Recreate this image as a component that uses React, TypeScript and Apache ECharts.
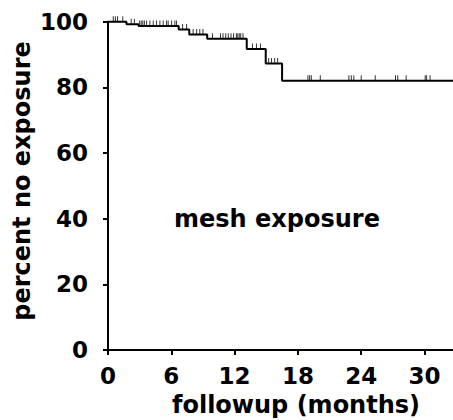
import React, { useEffect, useRef } from "react";
import * as echarts from "echarts";

// Kaplan-Meier step curve (months, percent)
const eventTimes = [0, 1.75, 2.9, 6.7, 7.7, 9.4, 13.15, 14.95, 16.5, 32.7];
const survival = [100, 99.2, 98.7, 97.6, 96.1, 94.8, 91.7, 87.3, 82.0, 82.0];

// censored observations (months)
const censorTimes = [
  0.5, 0.7, 0.9, 1.4,
  2.2, 2.5,
  3.0, 3.15, 3.3, 3.45, 3.66, 3.97, 4.29, 4.6, 4.92, 5.23, 5.55, 5.7, 6.03, 6.34, 6.5,
  7.07, 7.45,
  8.07, 8.4, 8.7, 9.0,
  9.9, 10.66, 10.9, 11.16, 11.4, 11.66, 11.9, 12.17, 12.3, 12.44, 12.58, 12.8,
  13.69, 14.07, 14.45,
  15.23, 15.5, 15.8, 16.08,
  18.95, 19.11, 19.27, 20.12, 22.83, 23.06, 23.3, 24.0, 25.33, 27.25, 27.46, 28.26, 30.06, 30.2, 30.53,
];

const xTicks = [0, 6, 12, 18, 24, 30];
const yTicks = [0, 20, 40, 60, 80, 100];

const FONT = "DejaVu Sans";

function levelAt(t: number): number {
  let v = survival[0];
  for (let i = 0; i < eventTimes.length; i++) {
    if (eventTimes[i] <= t) v = survival[i];
  }
  return v;
}

export default function App() {
  const ref = useRef<HTMLDivElement>(null);
  useEffect(() => {
    if (!ref.current) return;
    const chart = echarts.init(ref.current, undefined, { renderer: "svg" });
    const curve = eventTimes.map((t, i) => [t, survival[i]]);
    const censors = censorTimes.map((t) => [t, levelAt(t)]);
    chart.setOption({
      animation: false,
      backgroundColor: "#ffffff",
      grid: { left: 108, right: 0, top: 21.7, bottom: 70, containLabel: false },
      xAxis: {
        type: "value",
        min: 0,
        max: 32.7,
        interval: 6,
        splitLine: { show: false },
        axisLine: { lineStyle: { color: "#000", width: 2 } },
        axisTick: { show: true, length: 5, lineStyle: { color: "#000", width: 2 } },
        axisLabel: {
          color: "#000",
          fontFamily: FONT,
          fontWeight: "bold",
          fontSize: 23,
          margin: 14,
        },
      },
      yAxis: {
        type: "value",
        min: 0,
        max: 100,
        interval: 20,
        splitLine: { show: false },
        axisLine: { show: true, lineStyle: { color: "#000", width: 2 } },
        axisTick: { show: true, length: 5, lineStyle: { color: "#000", width: 2 } },
        axisLabel: {
          color: "#000",
          fontFamily: FONT,
          fontWeight: "bold",
          fontSize: 23,
          margin: 20,
          formatter: (v: number) => (yTicks.includes(v) ? String(v) : ""),
        },
      },
      graphic: [
        {
          type: "text",
          x: 296,
          y: 405,
          style: {
            text: "followup (months)",
            font: `bold 24px "${FONT}"`,
            fill: "#000",
            textAlign: "center",
            textVerticalAlign: "middle",
          },
        },
        {
          type: "text",
          x: 22,
          y: 181,
          rotation: Math.PI / 2,
          style: {
            text: "percent no exposure",
            font: `bold 24px "${FONT}"`,
            fill: "#000",
            textAlign: "center",
            textVerticalAlign: "middle",
          },
        },
        {
          type: "text",
          x: 277,
          y: 219,
          style: {
            text: "mesh exposure",
            font: `bold 24px "${FONT}"`,
            fill: "#000",
            textAlign: "center",
            textVerticalAlign: "middle",
          },
        },
      ],
      series: [
        {
          type: "line",
          step: "end",
          data: curve,
          symbol: "none",
          lineStyle: { color: "#000", width: 2 },
          clip: false,
        },
        {
          type: "scatter",
          data: censors,
          symbol: "rect",
          symbolSize: [1, 5],
          symbolOffset: [0, -3],
          itemStyle: { color: "#000" },
        },
      ],
    });
    return () => chart.dispose();
  }, []);
  return (
    <div
      ref={ref}
      style={{ position: "fixed", left: 0, top: 0, width: 453, height: 420 }}
    />
  );
}
